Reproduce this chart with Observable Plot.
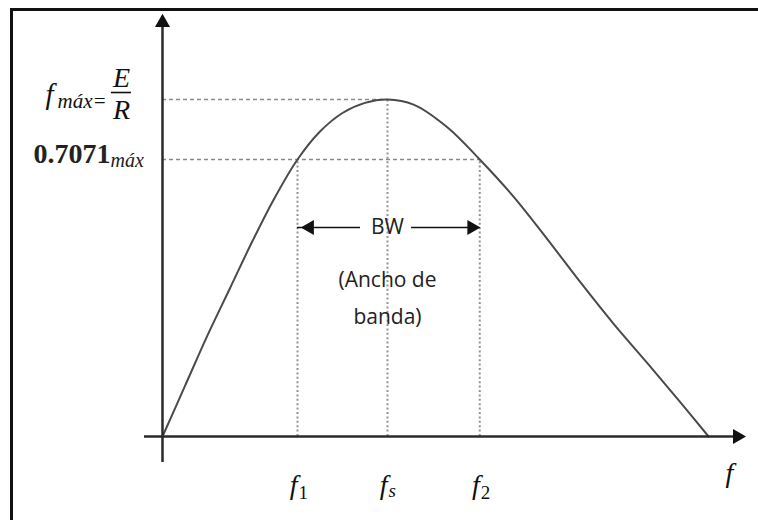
<!DOCTYPE html>
<html><head><meta charset="utf-8">
<script src="https://cdn.jsdelivr.net/npm/d3@7"></script>
<script src="https://cdn.jsdelivr.net/npm/@observablehq/plot@0.6"></script>
<style>
body{margin:0;background:#fff;}
#wrap{position:relative;width:758px;height:520px;overflow:hidden;background:#fff;}
#frame{position:absolute;left:10px;top:8px;width:800px;height:560px;border-left:3px solid #111;border-top:3px solid #111;pointer-events:none;}
</style></head><body>
<div id="wrap"><div id="chart"></div><div id="frame"></div></div>
<script>
// Resonance curve (schematic units: frequency with fs = 100, current with Imax = 100)
const curveFreq = [0, 10, 20, 30, 40, 50, 60, 70, 80, 90, 100, 111.6, 126.7, 141, 156, 171.1, 185.8, 200.4, 215.6, 230.2, 242.7];
const curveAmp  = [0, 15, 30, 44, 58, 71, 82.2, 90.5, 96, 99, 100, 98.5, 91.7, 82.2, 71.2, 58.5, 45.7, 33.5, 21.7, 10.1, 0];
// key frequencies f1, fs, f2
const keyFreq = [60, 100, 141];
const keySub = ["1", "s", "2"];
const keyLevel = [82.2, 100, 82.2];
// levels: maximum and 0.7071 of maximum (drawn schematically)
const levelMax = 100;
const levelHalf = 82.2;
// axis extents
const xAxisExtent = [-8, 259.5];
const yAxisExtent = [-7.7, 125.5];
const xAxisLabelPos = [252];
// BW annotation
const bwLevel = 62;
const bwGap = [88, 110.7];
const bwNoteLevel = 42.3;

const curve = curveFreq.map((f, i) => ({f, a: curveAmp[i]}));
const keys = keyFreq.map((f, i) => ({f, sub: keySub[i], level: keyLevel[i], zero: 0}));
const serif = "Liberation Serif";
const sans = "Open Sans";

const chart = Plot.plot({
  width: 758, height: 520,
  margin: 0,
  x: {domain: [-72, 264.89], range: [0, 758], axis: null},
  y: {domain: [-24.93, 129.38], range: [520, 0], axis: null},
  style: {background: "transparent", overflow: "visible"},
  marks: [
    // guide lines
    Plot.ruleY([{y: levelMax, x2: keyFreq[1]}, {y: levelHalf, x2: keyFreq[2]}],
      {y: "y", x1: 0, x2: "x2", stroke: "#8a8a8a", strokeWidth: 1.6, strokeDasharray: "4,3"}),
    Plot.ruleX(keys, {x: "f", y1: 0, y2: "level", stroke: "#939393", strokeWidth: 2, strokeDasharray: "2,2.4"}),
    // curve
    Plot.line(curve, {x: "f", y: "a", curve: "catmull-rom", stroke: "#4a4a4a", strokeWidth: 2}),
    // axes
    Plot.ruleY([0], {x1: xAxisExtent[0], x2: xAxisExtent[1] - 3, stroke: "#2a2a2a", strokeWidth: 2.5}),
    Plot.ruleX([0], {y1: yAxisExtent[0], y2: yAxisExtent[1] - 1, stroke: "#2a2a2a", strokeWidth: 2.5}),
    Plot.dot([{x: xAxisExtent[1], y: 0}], {x: "x", y: "y", symbol: "triangle", r: 5.6, fill: "#111", stroke: null, rotate: 90, dx: -9}),
    Plot.dot([{x: 0, y: yAxisExtent[1]}], {x: "x", y: "y", symbol: "triangle", r: 5.6, fill: "#111", stroke: null, rotate: 0, dy: 9}),
    // BW arrows
    Plot.ruleY([bwLevel], {x1: keyFreq[0], x2: bwGap[0], stroke: "#111", strokeWidth: 1.5}),
    Plot.ruleY([bwLevel], {x1: bwGap[1], x2: keyFreq[2], stroke: "#111", strokeWidth: 1.5}),
    Plot.dot([{x: keyFreq[0], y: bwLevel}], {x: "x", y: "y", symbol: "triangle", r: 5.6, fill: "#111", stroke: null, rotate: -90, dx: 12}),
    Plot.dot([{x: keyFreq[2], y: bwLevel}], {x: "x", y: "y", symbol: "triangle", r: 5.6, fill: "#111", stroke: null, rotate: 90, dx: -8}),
    Plot.text(["BW"], {x: keyFreq[1], y: bwLevel, text: d => d, fontFamily: sans, fontSize: 21, fill: "#222"}),
    Plot.text(["(Ancho de\nbanda)"], {x: keyFreq[1], y: bwNoteLevel, text: d => d, fontFamily: sans, fontSize: 21, lineHeight: 1.75, fill: "#222"}),
    // x labels
    Plot.text(keys, {x: "f", y: "zero", text: () => "f", textAnchor: "end", lineAnchor: "bottom", dx: 0, dy: 58, fontFamily: serif, fontStyle: "italic", fontSize: 28, fill: "#111"}),
    Plot.text(keys.filter(d => d.sub !== "s"), {x: "f", y: "zero", text: "sub", textAnchor: "start", lineAnchor: "bottom", dx: 1, dy: 63, fontFamily: serif, fontSize: 19, fill: "#111"}),
    Plot.text(keys.filter(d => d.sub === "s"), {x: "f", y: "zero", text: "sub", textAnchor: "start", lineAnchor: "bottom", dx: 1, dy: 61, fontFamily: serif, fontStyle: "italic", fontSize: 19, fill: "#111"}),
    Plot.text(xAxisLabelPos, {x: d => d, y: () => 0, text: () => "f", textAnchor: "middle", lineAnchor: "bottom", dy: 46, fontFamily: serif, fontStyle: "italic", fontSize: 28, fill: "#111"}),
    // y labels
    Plot.text([levelMax], {y: d => d, frameAnchor: "left", text: () => "f", textAnchor: "start", lineAnchor: "bottom", dx: 45, dy: 4, fontFamily: serif, fontStyle: "italic", fontSize: 29, fill: "#111"}),
    Plot.text([levelMax], {y: d => d, frameAnchor: "left", text: () => "máx=", textAnchor: "start", lineAnchor: "bottom", dx: 57, dy: 8, fontFamily: serif, fontStyle: "italic", fontSize: 21, fill: "#111"}),
    Plot.text([levelMax], {y: d => d, frameAnchor: "left", text: () => "E", textAnchor: "middle", lineAnchor: "bottom", dx: 121, dy: -13, fontFamily: serif, fontStyle: "italic", fontSize: 28, fill: "#111"}),
    Plot.text([levelMax], {y: d => d, frameAnchor: "left", text: () => "R", textAnchor: "middle", lineAnchor: "bottom", dx: 121, dy: 19, fontFamily: serif, fontStyle: "italic", fontSize: 28, fill: "#111"}),
    Plot.ruleY([levelMax], {x1: -22.7, x2: -13.8, dy: -7, stroke: "#111", strokeWidth: 1.6}),
    Plot.text([levelHalf], {y: d => d, frameAnchor: "left", text: () => "0.7071", textAnchor: "start", lineAnchor: "bottom", dx: 33, dy: 4, fontFamily: serif, fontWeight: "bold", fontSize: 28, fill: "#222"}),
    Plot.text([levelHalf], {y: d => d, frameAnchor: "left", text: () => "máx", textAnchor: "start", lineAnchor: "bottom", dx: 110, dy: 8, fontFamily: serif, fontStyle: "italic", fontSize: 20, fill: "#222"})
  ]
});
document.getElementById("chart").appendChild(chart);
</script>
</body></html>
